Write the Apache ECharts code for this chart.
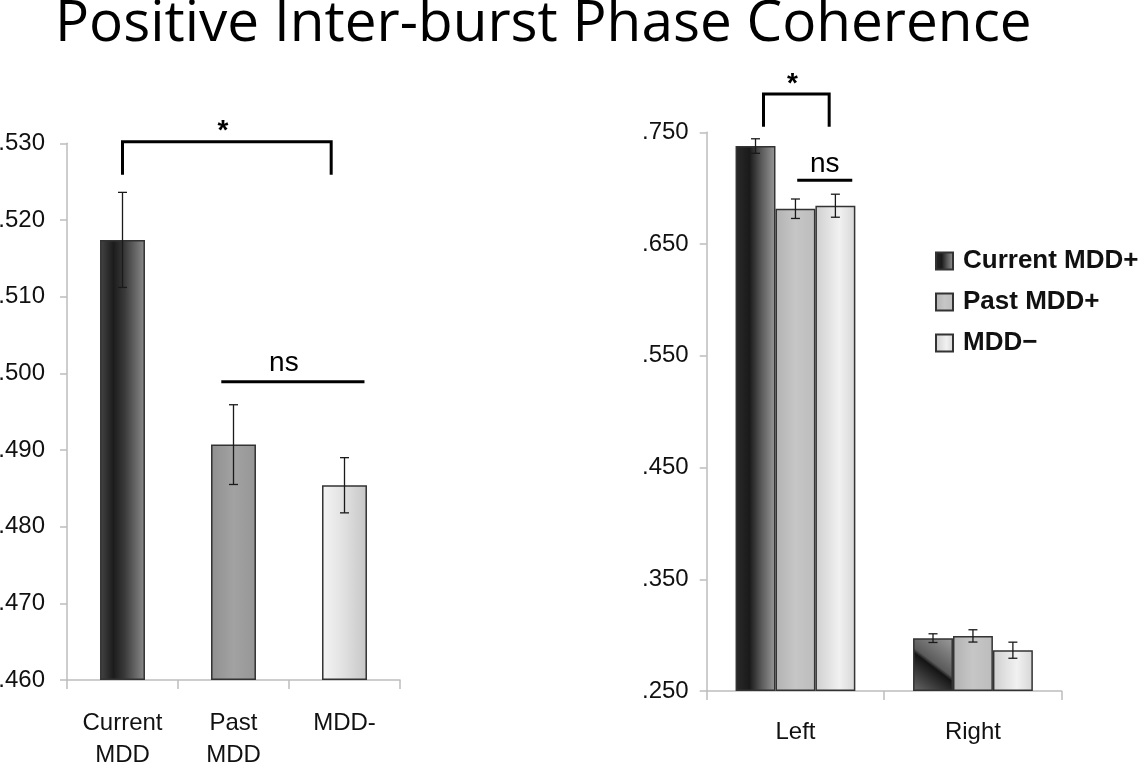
<!DOCTYPE html>
<html>
<head>
<meta charset="utf-8">
<script src="https://cdn.jsdelivr.net/npm/echarts@6/dist/echarts.min.js"></script>
<style>
html, body { margin: 0; padding: 0; background: #fff; }
#main { width: 1144px; height: 762px; }
</style>
</head>
<body>
<div id="main"></div>
<script>
var titleText = 'Positive Inter-burst Phase Coherence';

// left panel: three groups
var groupCats = ['Current\nMDD', 'Past\nMDD', 'MDD-'];
var groupMeans = [0.5174, 0.4907, 0.4854];
var groupErr = [0.0062, 0.0052, 0.0036];
var groupAxis = [0.46, 0.53, 0.01];   // min, max, step

// right panel: hemisphere x group
var sideCats = ['Left', 'Right'];
var seriesNames = ['Current MDD+', 'Past MDD+', 'MDD\u2212'];
var currentMeans = [0.7377, 0.2973];
var currentErr = [0.0065, 0.0039];
var pastMeans = [0.6816, 0.2993];
var pastErr = [0.0087, 0.0055];
var negMeans = [0.6843, 0.2865];
var negErr = [0.0103, 0.0072];
var sideAxis = [0.25, 0.75, 0.10];

// significance brackets: [from, to, line level, leg end level] (category units / axis values)
var leftBrackets = [[0, 1.88, 0.5302, 0.5259], [0.89, 2.18, 0.4989, 0.4989]];
var leftMarks = ['*', 'ns'];
var rightBrackets = [[-0.18, 0.19, 0.7843, 0.7550], [0.01, 0.32, 0.7070, 0.7070]];
var rightMarks = ['*', 'ns'];

function grad(stops, x2, y2, x1, y1) {
    return new echarts.graphic.LinearGradient(x1 || 0, y1 || 0, x2 == null ? 1 : x2, y2 || 0,
        stops.map(function (s) { return { offset: s[0], color: s[1] }; }));
}
function fmt(base) {
    return function (v) { return (v + base).toFixed(3).replace(/^0/, ''); };
}

var leftBase = groupAxis[0], rightBase = sideAxis[0];
var leftColors = [
    grad([[0, '#454545'], [0.3, '#1c1c1c'], [0.55, '#3a3a3a'], [1, '#8c8c8c']]),
    grad([[0, '#909090'], [0.5, '#a2a2a2'], [1, '#969696']]),
    grad([[0, '#f5f5f5'], [0.5, '#e0e0e0'], [1, '#c6c6c6']])
];
var sideColors = [
    grad([[0, '#2a2a2a'], [0.35, '#1a1a1a'], [0.65, '#5a5a5a'], [1, '#9a9a9a']]),
    grad([[0, '#b2b2b2'], [0.5, '#c6c6c6'], [1, '#bcbcbc']]),
    grad([[0, '#cfcfcf'], [0.6, '#f1f1f1'], [1, '#d6d6d6']])
];
var rightCurrentColor = grad([[0, '#6a6a6a'], [0.47, '#141414'], [0.53, '#5a5a5a'], [1, '#9c9c9c']], 1, 0, 0, 1);

var labelFont = { fontFamily: 'Liberation Sans, Arial, sans-serif', fontSize: 24, color: '#111' };
var barFracRight = 0.225;

function errRender(frac) {
    return function (params, api) {
        var lo = api.coord([api.value(0), api.value(1)]);
        var hi = api.coord([api.value(0), api.value(2)]);
        var bw = api.size([1, 0])[0] * frac;
        var x = lo[0] + api.value(3) * bw;
        var cap = 4.5;
        var st = { stroke: '#1a1a1a', lineWidth: 1.3 };
        return {
            type: 'group',
            children: [
                { type: 'line', shape: { x1: x, y1: lo[1], x2: x, y2: hi[1] }, style: st },
                { type: 'line', shape: { x1: x - cap, y1: lo[1], x2: x + cap, y2: lo[1] }, style: st },
                { type: 'line', shape: { x1: x - cap, y1: hi[1], x2: x + cap, y2: hi[1] }, style: st }
            ]
        };
    };
}

var leftErrData = groupMeans.map(function (m, i) {
    return [i, m - groupErr[i] - leftBase, m + groupErr[i] - leftBase, 0];
});
var sideMeans = [currentMeans, pastMeans, negMeans];
var sideErrs = [currentErr, pastErr, negErr];
var rightErrData = [];
sideMeans.forEach(function (arr, s) {
    arr.forEach(function (m, i) {
        rightErrData.push([i, m - sideErrs[s][i] - rightBase, m + sideErrs[s][i] - rightBase, s - 1]);
    });
});

function xAxisCfg(grid, cats, margin) {
    return {
        type: 'category', gridIndex: grid, data: cats,
        axisLine: { lineStyle: { color: '#bdbdbd', width: 1.5 } },
        axisTick: { show: true, length: 9, lineStyle: { color: '#bdbdbd', width: 1.5 } },
        axisLabel: Object.assign({ margin: margin, lineHeight: 32 }, labelFont)
    };
}
function yAxisCfg(grid, axis, margin) {
    return {
        type: 'value', gridIndex: grid, min: 0, max: axis[1] - axis[0], interval: axis[2],
        axisLine: { show: true, lineStyle: { color: '#bdbdbd', width: 1.5 } },
        axisTick: { show: true, length: 7, lineStyle: { color: '#bdbdbd', width: 1.5 } },
        splitLine: { show: false },
        axisLabel: Object.assign({ margin: margin, formatter: fmt(axis[0]) }, labelFont)
    };
}

var series = [{
    type: 'bar', xAxisIndex: 0, yAxisIndex: 0, barWidth: '40.5%',
    data: groupMeans.map(function (m, i) {
        return { value: m - leftBase, itemStyle: { color: leftColors[i] } };
    }),
    itemStyle: { borderColor: '#333', borderWidth: 1.5 }
}];
seriesNames.forEach(function (name, s) {
    series.push({
        name: name, type: 'bar', xAxisIndex: 1, yAxisIndex: 1,
        barWidth: (barFracRight * 100) + '%', barGap: '0%',
        itemStyle: { color: sideColors[s], borderColor: '#333', borderWidth: 1.5 },
        data: sideMeans[s].map(function (m, i) {
            if (s === 0 && i === 1) return { value: m - rightBase, itemStyle: { color: rightCurrentColor } };
            return m - rightBase;
        })
    });
});
series.push({
    type: 'custom', xAxisIndex: 0, yAxisIndex: 0, z: 10,
    renderItem: errRender(0.405), encode: { x: 0, y: [1, 2] }, data: leftErrData
});
series.push({
    type: 'custom', xAxisIndex: 1, yAxisIndex: 1, z: 10,
    renderItem: errRender(barFracRight), encode: { x: 0, y: [1, 2] }, data: rightErrData
});

var chart = echarts.init(document.getElementById('main'), null, { renderer: 'canvas' });
chart.setOption({
    animation: false,
    backgroundColor: '#fff',
    title: {
        text: titleText, left: 50, top: -9,
        textStyle: { fontFamily: 'Open Sans, Noto Sans, sans-serif', fontSize: 56.7, fontWeight: 'normal', color: '#000' }
    },
    legend: {
        orient: 'vertical', left: 930, top: 243, itemGap: 15,
        itemWidth: 17, itemHeight: 17, icon: 'rect',
        data: seriesNames,
        textStyle: { fontFamily: 'Liberation Sans, Arial, sans-serif', fontSize: 26, fontWeight: 'bold', color: '#111', padding: [0, 0, 0, 5] }
    },
    grid: [
        { left: 67, top: 143.3, width: 333, height: 536.7, outerBoundsMode: 'none' },
        { left: 706.7, top: 132.3, width: 355, height: 558.7, outerBoundsMode: 'none' }
    ],
    xAxis: [xAxisCfg(0, groupCats, 27), xAxisCfg(1, sideCats, 25)],
    yAxis: [yAxisCfg(0, groupAxis, 22), yAxisCfg(1, sideAxis, 18)],
    series: series
});

// brackets / significance text positioned through the axes
function bracketGraphics(gridIndex, list, marks, base, nsShift, nsDx) {
    var out = [];
    list.forEach(function (b, k) {
        var p0 = chart.convertToPixel({ gridIndex: gridIndex }, [0, b[2] - base]);
        var p1 = chart.convertToPixel({ gridIndex: gridIndex }, [1, b[2] - base]);
        var pl = chart.convertToPixel({ gridIndex: gridIndex }, [0, b[3] - base]);
        var cw = p1[0] - p0[0];
        var xa = p0[0] + b[0] * cw, xb = p0[0] + b[1] * cw, y = p0[1], yl = pl[1];
        var st = { stroke: '#000', lineWidth: 3, fill: null };
        out.push({
            type: 'polyline', silent: true,
            shape: { points: [[xa, yl], [xa, y], [xb, y], [xb, yl]] }, style: st
        });
        var isStar = marks[k] === '*';
        out.push({
            type: 'text', silent: true,
            style: {
                text: marks[k], x: (xa + xb) / 2 + (isStar ? -4 : nsDx), y: isStar ? y + 4 : y + nsShift,
                textAlign: 'center', textVerticalAlign: 'bottom',
                font: (isStar ? 'bold 28px' : '28px') + ' Liberation Sans, Arial, sans-serif', fill: '#000'
            }
        });
    });
    return out;
}
chart.setOption({
    graphic: bracketGraphics(0, leftBrackets, leftMarks, leftBase, -4, -9)
        .concat(bracketGraphics(1, rightBrackets, rightMarks, rightBase, -2, 0))
});
</script>
</body>
</html>
